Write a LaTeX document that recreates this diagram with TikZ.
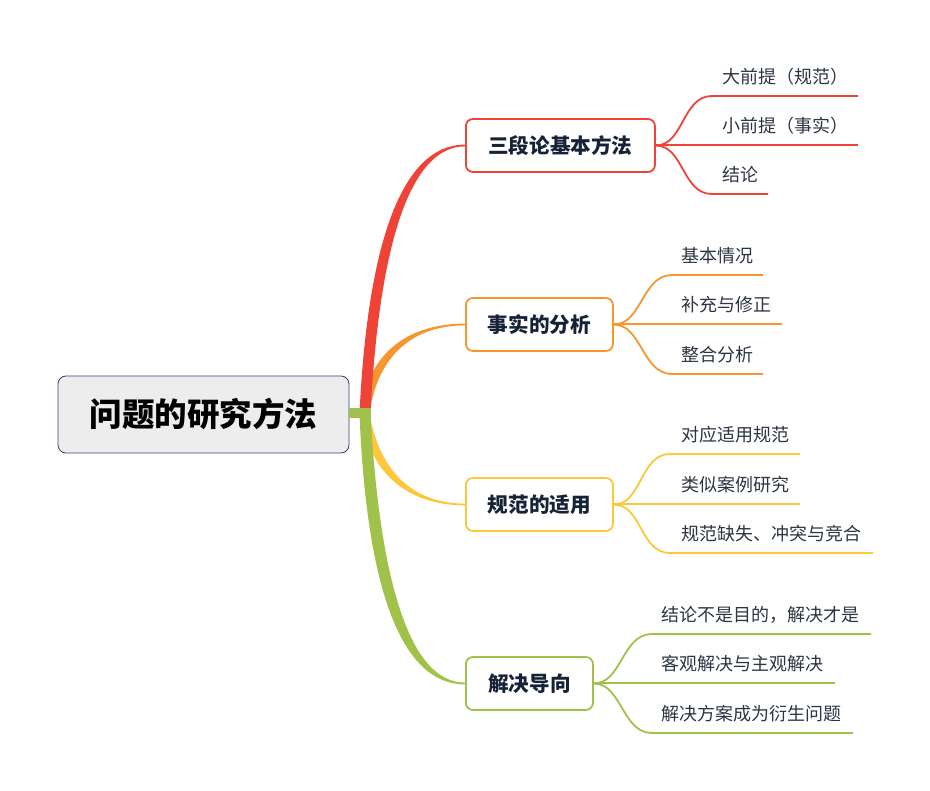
\documentclass[tikz,border=0pt]{standalone}
\usepackage{fontspec}
\setmainfont{Noto Sans CJK SC}
\usetikzlibrary{calc}
\definecolor{mapred}{RGB}{240,67,56}
\definecolor{maporange}{RGB}{247,150,48}
\definecolor{mapyellow}{RGB}{253,199,60}
\definecolor{mapgreen}{RGB}{161,194,74}
\definecolor{mapnavy}{RGB}{52,68,110}
\definecolor{maptext}{RGB}{22,34,56}
\definecolor{leaftext}{RGB}{44,52,66}

\begin{document}
\begin{tikzpicture}[x=1pt, y=-1pt,
  box/.style={rectangle, rounded corners=7pt, draw=#1, line width=1.8pt, fill=white,
    minimum height=53pt, inner sep=0pt, anchor=west, text=maptext,
    font=\fontsize{20.6}{24}\selectfont\bfseries},
  leaf/.style={anchor=west, inner sep=0pt, text=leaftext, font=\fontsize{18}{21}\selectfont},
  twig/.style={draw=#1, line width=1.8pt}
]
\useasboundingbox (0,0) rectangle (930,791);
\node[rectangle, rounded corners=8pt, draw=mapnavy, line width=0.8pt, fill=black!7,
  minimum width=291pt, minimum height=77pt, text=black,
  font=\fontsize{32.5}{38}\selectfont\bfseries] (root) at (203.5,414.5) {问题的研究方法};
\coordinate (hub) at (365,413.5);

% main boxes
\node[box=mapred, minimum width=189pt] (syl) at (465,145.5) {三段论基本方法};
\node[box=maporange, minimum width=147pt] (fact) at (465,324.5) {事实的分析};
\node[box=mapyellow, minimum width=147pt] (norm) at (465,504.5) {规范的适用};
\node[box=mapgreen, minimum width=127pt] (sol) at (465,683.5) {解决导向};

% tapered branches
\fill[maporange] ($(hub)+(-4,0)$) .. controls +(6,-62) and +(-55,0) .. ($(fact.west)+(0,-0.9)$)
  -- ($(fact.west)+(0,0.9)$) .. controls +(-52,0) and +(8,-58) .. ($(hub)+(4.5,0)$) -- cycle;
\fill[mapyellow] ($(hub)+(-4,0)$) .. controls +(8,62) and +(-55,0) .. ($(norm.west)+(0,0.9)$)
  -- ($(norm.west)+(0,-0.9)$) .. controls +(-52,0) and +(10,58) .. ($(hub)+(4.5,0)$) -- cycle;
\fill[mapred] ($(hub)+(-5.5,0)$) .. controls +(8,-168) and +(-64,0) .. ($(syl.west)+(0,-0.9)$)
  -- ($(syl.west)+(0,0.9)$) .. controls +(-58,0) and +(8,-158) .. ($(hub)+(5.5,0)$) -- cycle;
\fill[mapgreen] ($(hub)+(-5.5,0)$) .. controls +(7,175) and +(-64,0) .. ($(sol.west)+(0,0.9)$)
  -- ($(sol.west)+(0,-0.9)$) .. controls +(-56,0) and +(9,165) .. ($(hub)+(5.5,0)$) -- cycle;
\fill[mapgreen] ($(root.east)+(0,-6.5)$) rectangle ($(hub)+(5.5,4.5)$);

% leaves: 三段论基本方法
\node[leaf] (s1) at (722,77) {大前提（规范）};
\node[leaf] (s2) at (722,126) {小前提（事实）};
\node[leaf] (s3) at (722,175) {结论};
\coordinate (s1a) at (712,96);  \coordinate (s1b) at (858,96);
\coordinate (s2b) at (858,145);
\coordinate (s3a) at (712,194); \coordinate (s3b) at (768,194);
\draw[twig=mapred] (syl.east) .. controls +(28,0) and +(-30,0) .. (s1a) -- (s1b);
\draw[twig=mapred] (syl.east |- s2b) -- (s2b);
\draw[twig=mapred] (syl.east) .. controls +(28,0) and +(-30,0) .. (s3a) -- (s3b);

% leaves: 事实的分析
\node[leaf] (f1) at (681,256) {基本情况};
\node[leaf] (f2) at (681,305) {补充与修正};
\node[leaf] (f3) at (681,355) {整合分析};
\coordinate (f1a) at (672,275); \coordinate (f1b) at (763,275);
\coordinate (f2b) at (782,324);
\coordinate (f3a) at (672,374); \coordinate (f3b) at (763,374);
\draw[twig=maporange] (fact.east) .. controls +(28,0) and +(-30,0) .. (f1a) -- (f1b);
\draw[twig=maporange] (fact.east |- f2b) -- (f2b);
\draw[twig=maporange] (fact.east) .. controls +(28,0) and +(-30,0) .. (f3a) -- (f3b);

% leaves: 规范的适用
\node[leaf] (n1) at (681,435) {对应适用规范};
\node[leaf] (n2) at (681,485) {类似案例研究};
\node[leaf] (n3) at (681,534) {规范缺失、冲突与竞合};
\coordinate (n1a) at (670,454); \coordinate (n1b) at (800,454);
\coordinate (n2b) at (800,504);
\coordinate (n3a) at (670,553); \coordinate (n3b) at (873,553);
\draw[twig=mapyellow] (norm.east) .. controls +(28,0) and +(-30,0) .. (n1a) -- (n1b);
\draw[twig=mapyellow] (norm.east |- n2b) -- (n2b);
\draw[twig=mapyellow] (norm.east) .. controls +(28,0) and +(-30,0) .. (n3a) -- (n3b);

% leaves: 解决导向
\node[leaf] (g1) at (661,615) {结论不是目的，解决才是};
\node[leaf] (g2) at (661,664) {客观解决与主观解决};
\node[leaf] (g3) at (661,714) {解决方案成为衍生问题};
\coordinate (g1a) at (652,634); \coordinate (g1b) at (871,634);
\coordinate (g2b) at (835,683);
\coordinate (g3a) at (652,733); \coordinate (g3b) at (853,733);
\draw[twig=mapgreen] (sol.east) .. controls +(28,0) and +(-30,0) .. (g1a) -- (g1b);
\draw[twig=mapgreen] (sol.east |- g2b) -- (g2b);
\draw[twig=mapgreen] (sol.east) .. controls +(28,0) and +(-30,0) .. (g3a) -- (g3b);
\end{tikzpicture}
\end{document}
